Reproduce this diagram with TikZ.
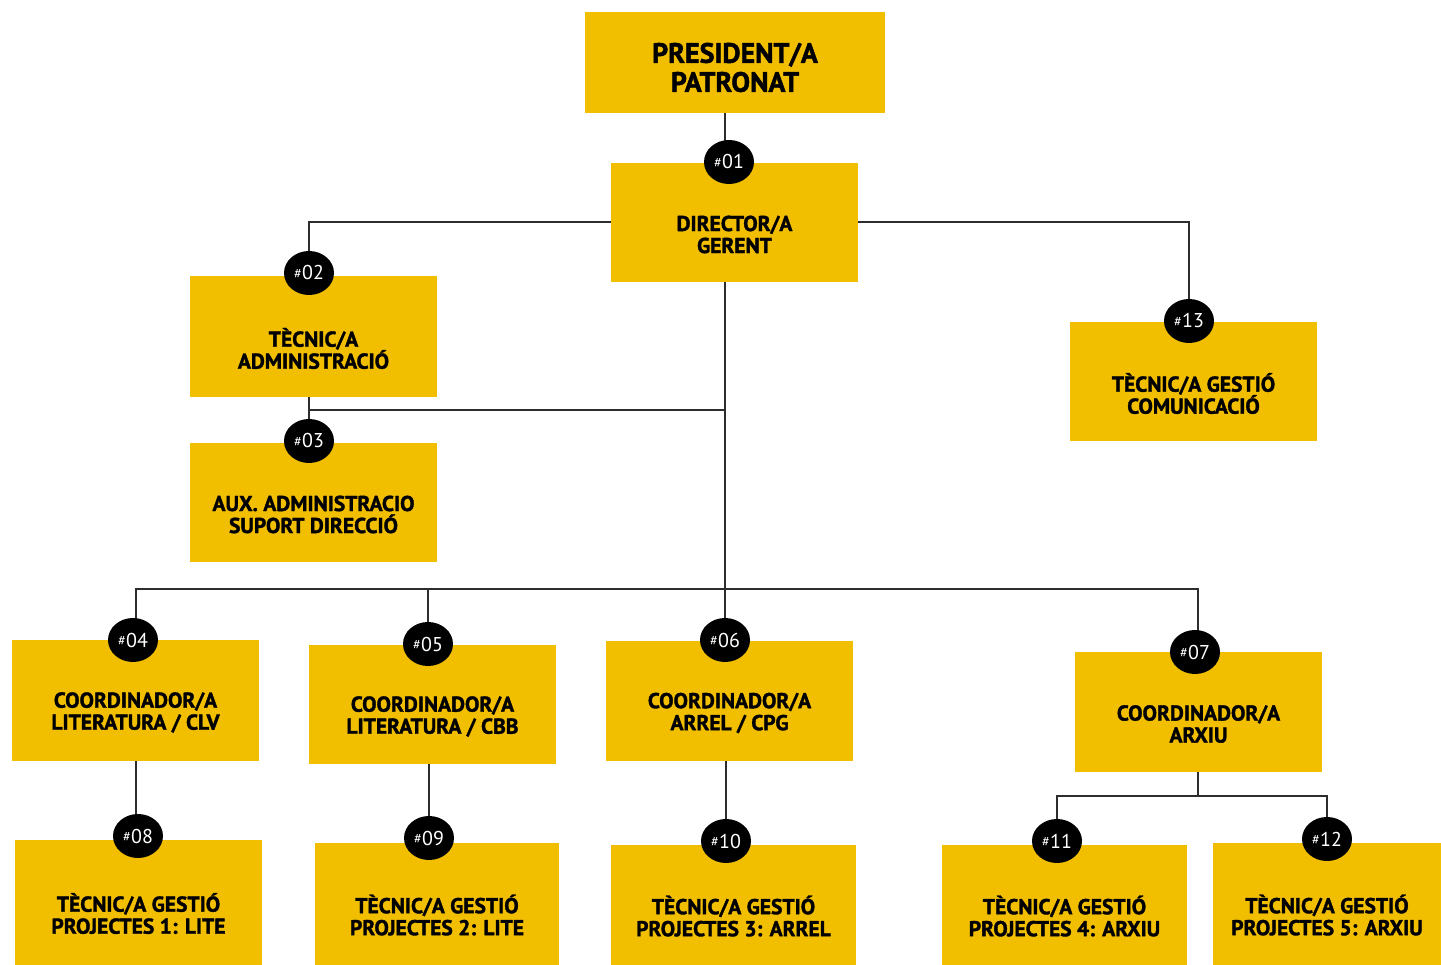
\documentclass[tikz,border=0pt]{standalone}
\usepackage{fontspec}
\setmainfont{PT Sans}[BoldFeatures={FakeBold=1.6}]
\usetikzlibrary{shapes.geometric,backgrounds}
\definecolor{ybox}{RGB}{242,190,0}
\definecolor{lin}{RGB}{45,45,45}
\tikzset{
  box/.style={fill=ybox, minimum width=247pt, minimum height=120pt, inner sep=0pt},
  txt/.style={font=\bfseries\fontsize{21.5}{22}\selectfont, align=center, text=black, yshift=-12pt},
  badge/.style={ellipse, fill=black, minimum width=50pt, minimum height=44pt, inner sep=0pt,
     text=white, font=\fontsize{20}{20}\selectfont},
  conn/.style={draw=lin, line width=2pt},
}
\newcommand{\bnum}[1]{\raisebox{1.5pt}{\fontsize{14}{14}\selectfont\#}\kern0.5pt#1}
\begin{document}
\begin{tikzpicture}[x=1pt,y=-1pt]
\useasboundingbox (0,0) rectangle (1441,965);
% boxes
\node[box, minimum width=300pt, minimum height=101pt,
  label={[txt, font=\bfseries\fontsize{28}{29}\selectfont, yshift=7pt]center:PRESIDENT/A\\PATRONAT}] (pres) at (735,62.5) {};
\node[box, minimum height=119pt, label={[txt]center:DIRECTOR/A\\GERENT}] (dir) at (734.5,222.5) {};
\node[box, minimum height=121pt, label={[txt]center:TÈCNIC/A\\ADMINISTRACIÓ}] (adm) at (313.5,336.5) {};
\node[box, minimum height=119pt, label={[txt]center:AUX. ADMINISTRACIO\\SUPORT DIRECCIÓ}] (aux) at (313.5,502.5) {};
\node[box, minimum height=119pt, label={[txt]center:TÈCNIC/A GESTIÓ\\COMUNICACIÓ}] (com) at (1193.5,381.5) {};
\node[box, minimum height=121pt, label={[txt]center:COORDINADOR/A\\LITERATURA / CLV}] (clv) at (135.5,700.5) {};
\node[box, minimum height=119pt, label={[txt]center:COORDINADOR/A\\LITERATURA / CBB}] (cbb) at (432.5,704.5) {};
\node[box, minimum height=120pt, label={[txt]center:COORDINADOR/A\\ARREL / CPG}] (cpg) at (729.5,701) {};
\node[box, minimum height=120pt, label={[txt]center:COORDINADOR/A\\ARXIU}] (arx) at (1198.5,712) {};
\node[box, minimum height=125pt, label={[txt,yshift=1pt]center:TÈCNIC/A GESTIÓ\\PROJECTES 1: LITE}] (p1) at (138.5,902.5) {};
\node[box, minimum width=244pt, minimum height=122pt, label={[txt,yshift=1pt]center:TÈCNIC/A GESTIÓ\\PROJECTES 2: LITE}] (p2) at (437,904) {};
\node[box, minimum width=245pt, minimum height=120pt, label={[txt,yshift=1pt]center:TÈCNIC/A GESTIÓ\\PROJECTES 3: ARREL}] (p3) at (733.5,905) {};
\node[box, minimum width=245pt, minimum height=120pt, label={[txt,yshift=1pt]center:TÈCNIC/A GESTIÓ\\PROJECTES 4: ARXIU}] (p4) at (1064.5,905) {};
\node[box, minimum width=228pt, minimum height=122pt, label={[txt,yshift=1pt]center:TÈCNIC/A GESTIÓ\\PROJECTES 5: ARXIU}] (p5) at (1327,904) {};
% badges
\node[badge] (b01) at (729,162) {\bnum{01}};
\node[badge] (b02) at (309,273) {\bnum{02}};
\node[badge] (b03) at (309,441) {\bnum{03}};
\node[badge] (b13) at (1189,321) {\bnum{13}};
\node[badge] (b04) at (133,640) {\bnum{04}};
\node[badge] (b05) at (428,644) {\bnum{05}};
\node[badge] (b06) at (725,640) {\bnum{06}};
\node[badge] (b07) at (1195,652) {\bnum{07}};
\node[badge] (b08) at (138,836) {\bnum{08}};
\node[badge] (b09) at (429,838) {\bnum{09}};
\node[badge] (b10) at (726,841) {\bnum{10}};
\node[badge] (b11) at (1057,841) {\bnum{11}};
\node[badge] (b12) at (1327,839) {\bnum{12}};
% junctions
\coordinate (j1) at (725,410);
\coordinate (bus) at (725,589);
\coordinate (j2) at (1198,796);
% connectors (behind)
\begin{pgfonlayer}{background}
\draw[conn] (pres.south -| 725,0) -- (b01.center -| 725,0);
\draw[conn] (dir.west) -| (b02.center);
\draw[conn] (dir.east) -| (b13.center);
\draw[conn] (dir.south -| bus) -- (bus);
\draw[conn] (adm.south -| b03) -- (b03.center);
\draw[conn] (j1) -- (j1 -| b03);
\draw[conn] (b04.center -| 136,0) |- (bus) -| (b07.center -| 1198,0);
\draw[conn] (b05.center) -- (b05 |- bus);
\draw[conn] (b06.center) -- (bus);
\draw[conn] (clv.south -| 136,0) -- (b08.center -| 136,0);
\draw[conn] (cbb.south -| b09) -- (b09.center);
\draw[conn] (cpg.south -| b10) -- (b10.center);
\draw[conn] (arx.south -| j2) -- (j2);
\draw[conn] (b11.center) |- (j2) -| (b12.center);
\end{pgfonlayer}
\end{tikzpicture}
\end{document}
